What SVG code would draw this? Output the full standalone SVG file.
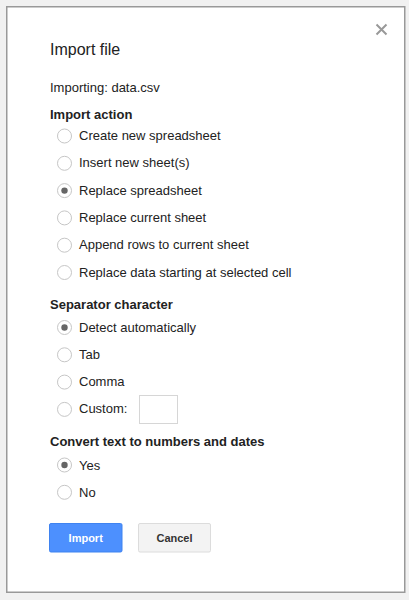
<svg xmlns="http://www.w3.org/2000/svg" width="409" height="600" viewBox="0 0 409 600">
<style>
text{font-family:"Liberation Sans",Arial,sans-serif;fill:#222;}
.t{font-size:13px;}
.h{font-size:13px;font-weight:bold;}
.r{fill:#fff;stroke:#c6c6c6;stroke-width:1;}
.dot{fill:#666;}
.btn{font-size:11px;font-weight:bold;text-anchor:middle;}
</style>
<rect x="0" y="0" width="409" height="600" fill="#f1f1f1"/>
<g id="dialog">
<rect x="6.75" y="6.75" width="398" height="585.5" fill="#fff" stroke="#999" stroke-width="1.5"/>
</g>
<g id="close">
<path d="M376.5 24.5 L386.5 34.5 M386.5 24.5 L376.5 34.5" stroke="#999" stroke-width="2" fill="none"/>
</g>
<g id="title">
<text x="50" y="55" style="font-size:16px">Import file</text>
<text class="t" x="50" y="92">Importing: data.csv</text>
</g>
<g id="import-action">
<text class="h" x="50" y="118.5">Import action</text>
<circle class="r" cx="64.5" cy="136" r="7"/><text class="t" x="79" y="140">Create new spreadsheet</text>
<circle class="r" cx="64.5" cy="163.3" r="7"/><text class="t" x="79" y="167.3">Insert new sheet(s)</text>
<circle class="r" cx="64.5" cy="190.6" r="7"/><circle class="dot" cx="64.5" cy="190.6" r="3.2"/><text class="t" x="79" y="194.6">Replace spreadsheet</text>
<circle class="r" cx="64.5" cy="217.9" r="7"/><text class="t" x="79" y="221.9">Replace current sheet</text>
<circle class="r" cx="64.5" cy="245.2" r="7"/><text class="t" x="79" y="249.2">Append rows to current sheet</text>
<circle class="r" cx="64.5" cy="272.5" r="7"/><text class="t" x="79" y="276.5">Replace data starting at selected cell</text>
</g>
<g id="separator">
<text class="h" x="50" y="309">Separator character</text>
<circle class="r" cx="64.5" cy="327.5" r="7"/><circle class="dot" cx="64.5" cy="327.5" r="3.2"/><text class="t" x="79" y="331.5">Detect automatically</text>
<circle class="r" cx="64.5" cy="354.8" r="7"/><text class="t" x="79" y="358.8">Tab</text>
<circle class="r" cx="64.5" cy="382.1" r="7"/><text class="t" x="79" y="386.1">Comma</text>
<circle class="r" cx="64.5" cy="409.4" r="7"/><text class="t" x="79" y="413.4">Custom:</text>
<rect x="139.5" y="395.5" width="38" height="28" fill="#fff" stroke="#d6d6d6" stroke-width="1"/>
</g>
<g id="convert">
<text class="h" x="50" y="446">Convert text to numbers and dates</text>
<circle class="r" cx="64.5" cy="465" r="7"/><circle class="dot" cx="64.5" cy="465" r="3.2"/><text class="t" x="79" y="469.5">Yes</text>
<circle class="r" cx="64.5" cy="492.3" r="7"/><text class="t" x="79" y="496.8">No</text>
</g>
<g id="import-button">
<rect x="49.5" y="523.5" width="72.5" height="28.5" rx="1.5" fill="#4d90fe" stroke="#3f83f0" stroke-width="1"/>
<text class="btn" x="85.7" y="541.5" style="fill:#fff">Import</text>
</g>
<g id="cancel-button">
<rect x="138.5" y="523.5" width="72" height="28.5" rx="1.5" fill="#f3f3f3" stroke="#dcdcdc" stroke-width="1"/>
<text class="btn" x="174.5" y="541.5" style="fill:#333">Cancel</text>
</g>
</svg>
